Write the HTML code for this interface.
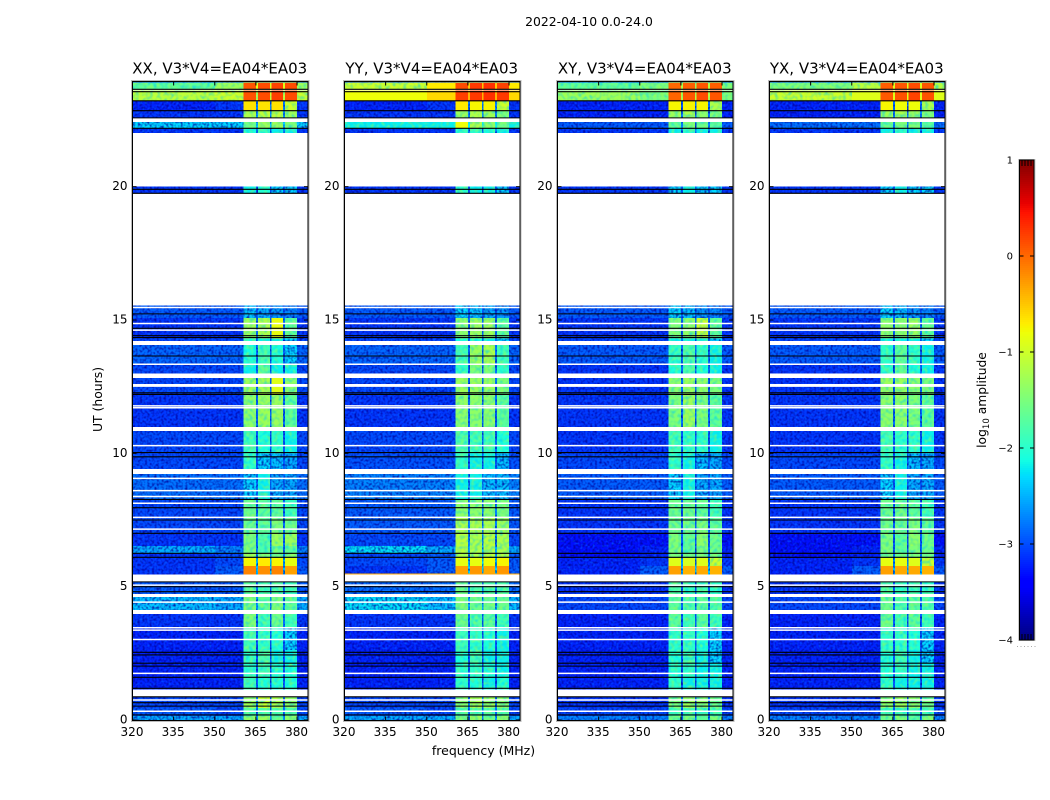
<!DOCTYPE html>
<html lang="en">
<head>
<meta charset="utf-8">
<title>2022-04-10 0.0-24.0</title>
<style>
html,body{margin:0;padding:0;background:#fff;}
body{width:1050px;height:800px;overflow:hidden;}
svg{display:block;}
text{font-family:"DejaVu Sans","Liberation Sans",sans-serif;fill:#000;}
</style>
</head>
<body>
<svg id="chart" xmlns="http://www.w3.org/2000/svg" width="1050" height="800" viewBox="0 0 1050 800">
  <defs>
    <filter id="grain" x="0" y="0" width="100%" height="100%" color-interpolation-filters="sRGB">
      <feTurbulence type="fractalNoise" baseFrequency="0.42" numOctaves="1" seed="4" result="n"/>
      <feColorMatrix in="n" type="matrix" values="0 0 0 0 0  0 0 0 0 0  0 0 0 0 0.6  2.2 0 0 0 -0.92" result="dark"/>
      <feColorMatrix in="n" type="matrix" values="0 0 0 0 0  0 0 0 0 0.42  0 0 0 0 1  0 2.2 0 0 -1.2" result="light"/>
      <feComposite in="dark" in2="SourceAlpha" operator="in" result="darkClip"/>
      <feComposite in="light" in2="SourceAlpha" operator="in" result="lightClip"/>
      <feMerge><feMergeNode in="SourceGraphic"/><feMergeNode in="darkClip"/><feMergeNode in="lightClip"/></feMerge>
    </filter>
    <filter id="grain-soft" x="0" y="0" width="100%" height="100%" color-interpolation-filters="sRGB">
      <feTurbulence type="fractalNoise" baseFrequency="0.28" numOctaves="1" seed="9" result="n"/>
      <feColorMatrix in="n" type="matrix" values="0 0 0 0 0  0 0 0 0 0.8  0 0 0 0 0.95  1.6 0 0 0 -0.7" result="cool"/>
      <feColorMatrix in="n" type="matrix" values="0 0 0 0 0.65  0 0 0 0 1  0 0 0 0 0.25  0 1.4 0 0 -0.62" result="warm"/>
      <feComposite in="cool" in2="SourceAlpha" operator="in" result="coolClip"/>
      <feComposite in="warm" in2="SourceAlpha" operator="in" result="warmClip"/>
      <feMerge><feMergeNode in="SourceGraphic"/><feMergeNode in="coolClip"/><feMergeNode in="warmClip"/></feMerge>
    </filter>
  </defs>
  <text x="589" y="26" font-size="12.4" text-anchor="middle">2022-04-10 0.0-24.0</text>
  <text transform="translate(102,399.5) rotate(-90)" font-size="12.4" text-anchor="middle">UT (hours)</text>
  <text x="483.5" y="755" font-size="12.5" text-anchor="middle">frequency (MHz)</text>
  <text transform="translate(986,400) rotate(-90)" font-size="12.3" text-anchor="middle">log<tspan font-size="8.6" dy="3">10</tspan><tspan dy="-3"> amplitude</tspan></text>
</svg>
<script>
// Data: UT extents (hours) of each recorded time block; gaps between blocks are flagged (white).
const utBlocks = [
[0,0.15],[0.15,0.45],[0.45,0.88],[1.14,1.61],[1.61,2.14],[2.14,2.62],[2.62,3.45],[3.45,3.97],
[4.12,4.61],[4.72,5.19],[5.45,5.5],[5.5,5.77],[5.77,6.07],[6.07,6.26],[6.26,6.52],[6.52,7.01],
[7.01,7.57],[7.57,8.25],[8.25,9.22],[9.41,10.0],[10.0,10.83],[10.98,12.22],[12.22,12.82],[12.99,13.34],
[13.34,14.06],[14.21,14.3],[14.3,15.07],[15.07,15.55],[19.75,20.0],[22.01,22.19],[22.19,22.43],
[22.6,22.86],[22.86,23.22],[23.22,23.6],[23.66,23.91],[23.91,24.0]
];
// Frequency bins (MHz) of the heatmap columns.
const freqEdges = [320,350,360.4,365.1,365.8,370.2,370.7,374.9,375.6,380,384];
// Which value of a block row each frequency bin reads.
const binToValue = [0,1,2,6,3,6,4,6,5,1];
// log10 amplitude per block: [low band, mid band, sub-band 1, 2, 3, 4, sub-band gap].
const xxValues = [
[-2.5,-2.5,-1.4,-1.3,-1.7,-1.4,-2.6],[-2.9,-3,-1.8,-1.8,-1.8,-1.8,-2.8],[-3,-3,-1.3,-1,-1.2,-1.4,-2.7],
[-3.2,-3.2,-1.9,-2.1,-2.1,-2.1,-2.9],[-3.2,-3.2,-2,-1.9,-2.1,-2.1,-2.9],[-3.2,-3.2,-2,-1.8,-2.2,-2.2,-2.9],
[-3.2,-3.2,-1.9,-2,-2.1,-2.3,-2.9],[-3.1,-3.1,-1.5,-1.9,-1.6,-1.9,-2.8],[-2.4,-2.5,-1.5,-1.7,-1.5,-1.7,-2.6],
[-2.9,-2.9,-1.7,-1.9,-1.8,-1.9,-2.8],[-3.1,-2.9,-0.15,-0.2,-0.15,-0.3,-2.4],[-3.1,-2.9,-0.15,-0.2,-0.15,-0.3,-2.4],
[-3.1,-3,-0.75,-0.7,-0.75,-0.85,-2.4],[-3.1,-3,-1.3,-1.5,-1.5,-1.4,-2.7],[-2.5,-2.7,-1.5,-1.8,-1.6,-1.7,-2.7],
[-3.1,-3.1,-1.5,-1.8,-1.3,-1.3,-2.8],[-3,-3,-1.6,-1.7,-1.5,-1.6,-2.8],[-3,-3,-1.6,-1.7,-1.7,-1.9,-2.8],
[-2.8,-2.8,-2.3,-2.2,-2.5,-2.5,-2.8],[-3,-3,-2,-2.3,-2.4,-2.5,-2.9],[-3,-3,-1.9,-2.1,-2,-2.2,-2.9],
[-3.1,-3.1,-1.4,-1.3,-1.3,-1.7,-2.8],[-3,-3,-1.3,-1.2,-0.9,-1.4,-2.8],[-3,-3,-2.2,-1.7,-2.2,-2.2,-2.8],
[-2.85,-2.85,-2.1,-1.9,-2.1,-2.3,-2.8],[-3,-3,-2.1,-2.2,-2.2,-2.3,-2.8],[-3.1,-3.1,-1.3,-1.2,-0.85,-1.7,-2.8],
[-2.9,-2.9,-2.4,-2.5,-2.6,-2.7,-2.9],[-3.1,-3.1,-2.2,-2.1,-2.3,-2.3,-2.9],[-3.1,-3.1,-2.1,-2,-2.2,-2.2,-2.7],
[-2.3,-2.3,-1.6,-1.3,-1.3,-1.5,-2.3],[-3.1,-3.1,-1.2,-1.1,-1.1,-1.3,-2.6],[-3.2,-3.1,-0.65,-0.65,-0.65,-1,-2.7],
[-1.1,-1,0.12,0.15,0.22,0.15,-1],[-1.7,-1.3,0.1,0.15,0.2,0.15,-0.9],[-3,-3,-2,-2,-2,-2,-2.7]
];
const yyValues = [
[-2.5,-2.5,-1.5,-1.3,-1.6,-1.4,-2.6],[-2.9,-3,-1.8,-1.8,-1.8,-1.8,-2.8],[-3,-3,-1.4,-1.2,-1.3,-1.4,-2.7],
[-3.2,-3.2,-2,-2.1,-2.2,-2.1,-2.9],[-3.2,-3.2,-2,-2,-2.1,-2.2,-2.9],[-3.2,-3.2,-2.1,-1.9,-2.2,-2.2,-2.9],
[-3.2,-3.2,-1.9,-2,-2.1,-2.2,-2.9],[-3.1,-3.1,-1.6,-1.8,-1.7,-1.9,-2.8],[-2.25,-2.4,-1.5,-1.6,-1.6,-1.6,-2.5],
[-2.8,-2.8,-1.6,-1.8,-1.8,-1.8,-2.7],[-0.35,-0.35,-0.3,-0.3,-0.3,-0.3,-0.35],[-3.1,-2.9,-0.3,-0.25,-0.35,-0.25,-2.3],
[-3,-2.9,-0.85,-0.85,-0.8,-0.75,-2.3],[-3,-2.9,-1.2,-1.2,-1.1,-1.1,-2.6],[-2.25,-2.5,-1.1,-1.2,-1.2,-1.2,-2.5],
[-3,-3,-1.1,-1.2,-1.1,-1.2,-2.6],[-2.9,-2.9,-1.2,-1.2,-1.2,-1.3,-2.7],[-2.9,-2.9,-1.4,-1.4,-1.4,-1.5,-2.7],
[-2.7,-2.7,-2.2,-2.2,-2.4,-2.4,-2.7],[-2.95,-2.95,-2,-2.2,-2.2,-2.4,-2.9],[-3,-3,-1.8,-1.9,-1.9,-2.1,-2.8],
[-3.1,-3.1,-1.4,-1.4,-1.4,-1.7,-2.8],[-3,-3,-1.3,-1.3,-1.3,-1.5,-2.8],[-3,-3,-2,-1.5,-1.5,-2,-2.8],
[-2.85,-2.85,-1.9,-1.3,-1.2,-1.9,-2.8],[-3,-3,-2.1,-2.1,-2.2,-2.3,-2.8],[-3.1,-3.1,-1.4,-1.3,-1.3,-1.7,-2.8],
[-2.9,-2.9,-2.3,-2.4,-2.5,-2.6,-2.9],[-3.1,-3.1,-2,-2.2,-2.2,-2.3,-2.9],[-3.1,-3.1,-2,-2,-2.1,-2.2,-2.7],
[-2.2,-2.2,-0.8,-1.2,-1.4,-1.6,-2.2],[-3.1,-3.1,-1.3,-1.2,-1.3,-1.5,-2.6],[-3.2,-3.1,-0.7,-0.75,-0.75,-1,-2.7],
[-0.8,-0.6,0.22,0.25,0.3,0.25,-0.4],[-1,-0.7,0.15,0.25,0.3,0.2,-0.5],[-3,-3,-2,-2,-2,-2,-2.7]
];
const xyValues = [
[-2.7,-2.7,-1.6,-1.5,-1.7,-1.5,-2.7],[-3,-3,-1.9,-1.9,-1.9,-1.9,-2.9],[-3.1,-3.1,-1.5,-1.3,-1.4,-1.6,-2.8],
[-3.2,-3.2,-2,-2.2,-2.2,-2.2,-2.9],[-3.2,-3.2,-2.1,-2,-2.2,-2.2,-2.9],[-3.2,-3.2,-2.1,-1.9,-2.2,-2.3,-2.9],
[-3.2,-3.2,-2,-2,-2.1,-2.3,-2.9],[-3.2,-3.2,-1.7,-1.9,-1.7,-1.9,-2.9],[-3,-3,-1.7,-1.8,-1.7,-1.8,-2.8],
[-3.1,-3.1,-1.8,-2,-1.9,-2,-2.9],[-3.2,-2.9,-0.3,-0.4,-0.35,-0.4,-2.4],[-3.2,-2.9,-0.3,-0.4,-0.35,-0.4,-2.4],
[-3.2,-3.1,-0.9,-0.95,-0.9,-1,-2.6],[-3.3,-3.2,-1.5,-1.6,-1.5,-1.6,-2.8],[-3.3,-3.2,-1.5,-1.7,-1.5,-1.6,-2.8],
[-3.3,-3.3,-1.5,-1.7,-1.4,-1.6,-2.9],[-3.1,-3.1,-1.6,-1.6,-1.5,-1.7,-2.9],[-3.1,-3.1,-1.6,-1.6,-1.7,-1.9,-2.9],
[-2.9,-2.9,-2.3,-2.2,-2.5,-2.5,-2.9],[-3,-3,-2,-2.2,-2.4,-2.5,-2.9],[-3.1,-3.1,-1.9,-2,-2,-2.2,-2.9],
[-3.1,-3.1,-1.5,-1.3,-1.5,-1.7,-2.8],[-3.1,-3.1,-1.4,-1.3,-1.4,-1.5,-2.8],[-3.1,-3.1,-2.1,-1.8,-2.1,-2.2,-2.8],
[-2.9,-2.9,-2,-1.8,-2,-2.2,-2.8],[-3,-3,-2.2,-2.2,-2.2,-2.3,-2.8],[-3.1,-3.1,-1.5,-1.4,-1,-1.7,-2.8],
[-2.9,-2.9,-2.3,-2.4,-2.6,-2.7,-2.9],[-3.1,-3.1,-2.3,-2.2,-2.3,-2.3,-2.9],[-3.1,-3.1,-2.2,-2,-2.2,-2.2,-2.7],
[-2.9,-2.9,-1.7,-1.5,-1.6,-1.7,-2.7],[-3.2,-3.2,-1.3,-1.2,-1.4,-1.5,-2.7],[-3.2,-3.2,-0.75,-0.75,-0.75,-1.2,-2.8],
[-1.3,-1.5,0.02,0.1,0.15,0.1,-1.1],[-1.7,-1.5,0,0.05,0.1,0.05,-1.1],[-3,-3,-2,-2,-2,-2,-2.7]
];
const yxValues = [
[-2.7,-2.7,-1.6,-1.5,-1.7,-1.5,-2.7],[-3,-3,-1.9,-1.9,-1.9,-1.9,-2.9],[-3.1,-3.1,-1.4,-1.3,-1.4,-1.6,-2.8],
[-3.2,-3.2,-2,-2.2,-2.2,-2.2,-2.9],[-3.2,-3.2,-2.1,-2,-2.2,-2.2,-2.9],[-3.2,-3.2,-2.1,-1.9,-2.2,-2.3,-2.9],
[-3.2,-3.2,-2,-2,-2.1,-2.3,-2.9],[-3.2,-3.2,-1.6,-1.9,-1.7,-1.9,-2.9],[-3,-3,-1.6,-1.8,-1.7,-1.8,-2.8],
[-3.1,-3.1,-1.8,-2,-1.9,-2,-2.9],[-3.2,-2.9,-0.3,-0.35,-0.35,-0.4,-2.4],[-3.2,-2.9,-0.3,-0.35,-0.35,-0.4,-2.4],
[-3.2,-3.1,-0.85,-0.85,-0.9,-1,-2.6],[-3.3,-3.2,-1.5,-1.6,-1.5,-1.6,-2.8],[-3.3,-3.2,-1.5,-1.7,-1.5,-1.6,-2.8],
[-3.3,-3.3,-1.5,-1.7,-1.4,-1.6,-2.9],[-3.1,-3.1,-1.6,-1.6,-1.5,-1.7,-2.9],[-3.1,-3.1,-1.6,-1.6,-1.7,-1.9,-2.9],
[-2.9,-2.9,-2.3,-2.2,-2.5,-2.5,-2.9],[-3,-3,-2,-2.2,-2.4,-2.5,-2.9],[-3.1,-3.1,-1.9,-2,-2,-2.2,-2.9],
[-3.1,-3.1,-1.4,-1.4,-1.5,-1.7,-2.8],[-3.1,-3.1,-1.3,-1.3,-1.4,-1.5,-2.8],[-3.1,-3.1,-2,-1.7,-2.1,-2.2,-2.8],
[-2.9,-2.9,-2,-1.7,-2,-2.2,-2.8],[-3,-3,-2.2,-2.2,-2.2,-2.3,-2.8],[-3.1,-3.1,-1.4,-1.4,-1.3,-1.7,-2.8],
[-2.9,-2.9,-2.3,-2.4,-2.6,-2.7,-2.9],[-3.1,-3.1,-2.3,-2.2,-2.3,-2.3,-2.9],[-3.1,-3.1,-2.2,-2,-2.2,-2.2,-2.7],
[-2.8,-2.8,-1.7,-1.5,-1.5,-1.7,-2.7],[-3.2,-3.2,-1.3,-1.2,-1.3,-1.5,-2.7],[-3.2,-3.2,-0.75,-0.8,-0.8,-1.2,-2.8],
[-1,-0.9,0.08,0.12,0.2,0.12,-0.9],[-1.5,-1.1,0.05,0.1,0.15,0.1,-0.9],[-3,-3,-2,-2,-2,-2,-2.7]
];
// Integrations flagged in all polarisations (UT hours).
const flaggedWhiteHours = [0.33,0.75,1.75,3.02,3.37,3.46,4.42,5.06,7.16,7.6,8.13,8.38,8.6,9.06,10.29,11.71,11.78,12.52,12.57,13.34,14.62,14.87,15.47];
const zeroBlackHours = [0.19,0.52,0.65,0.87,1.19,1.6,2.02,2.13,2.44,2.54,4.81,5.0,5.18,6.1,6.25,7.0,7.5,7.96,8.27,9.87,10.03,12.21,12.27,13.65,14.34,14.41,14.69,15.23,19.75,19.9,22.19,22.58,22.85,23.22,23.56,23.65,23.95];
// Labels and ticks.
const panelTitles = ['XX, V3*V4=EA04*EA03','YY, V3*V4=EA04*EA03','XY, V3*V4=EA04*EA03','YX, V3*V4=EA04*EA03'];
const xTicks = [320,335,350,365,380];
const yTicks = [0,5,10,15,20];
const colorbarTicks = [-4,-3,-2,-1,0,1];
// Jet colormap segments: [position, channel level].
const jetRed = [[0,0],[0.35,0],[0.66,1],[0.89,1],[1,0.5]];
const jetGreen = [[0,0],[0.125,0],[0.375,1],[0.64,1],[0.91,0],[1,0]];
const jetBlue = [[0,0.5],[0.11,1],[0.34,1],[0.65,0],[1,0]];
const panelValues = [xxValues,yyValues,xyValues,yxValues];

const SVG_NS = 'http://www.w3.org/2000/svg';
const chart = document.getElementById('chart');
const PANEL_LEFT = 132, PANEL_STEP = 212.4, PANEL_WIDTH = 175.5;
const PANEL_TOP = 80, PANEL_BOTTOM = 720, FRAME_TOP = 81.5, FRAME_BOTTOM = 720.5;
const FREQ_MIN = 320, FREQ_MAX = 384, UT_MAX = 24;
const CB_LEFT = 1019.5, CB_WIDTH = 14.5, CB_TOP = 160, CB_BOTTOM = 640, AMP_MIN = -4, AMP_MAX = 1;
const NOISY_BELOW = -2.2, SMOOTH_ABOVE = -1, MINOR_COUNT = 4, MINOR_STEP = 3, DOT_COUNT = 6, DOT_STEP = 3.5;

function panelX(i){ return Math.round(PANEL_LEFT + i * PANEL_STEP) + 0.5; }
function xScale(freq, i){ return panelX(i) + (freq - FREQ_MIN) / (FREQ_MAX - FREQ_MIN) * PANEL_WIDTH; }
function yScale(h){ return PANEL_BOTTOM - h / UT_MAX * (PANEL_BOTTOM - PANEL_TOP); }
function cbScale(v){ return CB_BOTTOM - (v - AMP_MIN) / (AMP_MAX - AMP_MIN) * (CB_BOTTOM - CB_TOP); }
function channel(stops, t){
  for (let k = 1; k < stops.length; k++) {
    if (t <= stops[k][0]) {
      const a = stops[k - 1], b = stops[k];
      return a[1] + (b[1] - a[1]) * (t - a[0]) / (b[0] - a[0]);
    }
  }
  return stops[stops.length - 1][1];
}
function jet(v){
  const t = Math.max(0, Math.min(1, (v - AMP_MIN) / (AMP_MAX - AMP_MIN)));
  return 'rgb(' + [jetRed, jetGreen, jetBlue].map(function (s) { return Math.round(255 * channel(s, t)); }).join(',') + ')';
}
function make(tag, attrs, parent){
  const el = document.createElementNS(SVG_NS, tag);
  Object.keys(attrs).forEach(function (k) { el.setAttribute(k, attrs[k]); });
  (parent || chart).appendChild(el);
  return el;
}

panelValues.forEach(function (rows, p) {
  const panel = make('g', {});
  
  

  const heat = make('g', {filter: 'url(#grain)', 'shape-rendering': 'crispEdges'}, panel);
  
  
  const heatBright = make('g', {filter: 'url(#grain-soft)', 'shape-rendering': 'crispEdges'}, panel);
  
  
  const heatHot = make('g', {'shape-rendering': 'crispEdges'}, panel);
  
  
  rows.forEach(function (vals, r) {
    const y0 = yScale(utBlocks[r][1]), y1 = yScale(utBlocks[r][0]);
    binToValue.forEach(function (vi, c) {
      const x0 = xScale(freqEdges[c], p), x1 = xScale(freqEdges[c + 1], p);
      const v = vals[vi];
      const host = v < NOISY_BELOW ? heat : (v > SMOOTH_ABOVE ? heatHot : heatBright);
      const cell = make('rect', {x: x0, y: y0, width: x1 - x0, height: y1 - y0, fill: jet(v)}, host);
      
      
    });
  });

  flaggedWhiteHours.forEach(function (h) {
    const l = make('line', {x1: xScale(FREQ_MIN, p), x2: xScale(FREQ_MAX, p), y1: yScale(h), y2: yScale(h), stroke: '#fff', 'stroke-width': 1.5}, panel);
    
    
  });
  zeroBlackHours.forEach(function (h) {
    const l = make('line', {x1: xScale(FREQ_MIN, p), x2: xScale(FREQ_MAX, p), y1: yScale(h), y2: yScale(h), stroke: '#000', 'stroke-width': 1.1}, panel);
    
    
  });

  const halo = make('rect', {x: panelX(p) - 1, y: FRAME_TOP - 1, width: PANEL_WIDTH + 2, height: FRAME_BOTTOM - FRAME_TOP + 2, fill: 'none', stroke: '#bbb', 'stroke-width': 1}, panel);
  
  
  const frame = make('rect', {x: panelX(p), y: FRAME_TOP, width: PANEL_WIDTH, height: FRAME_BOTTOM - FRAME_TOP, fill: 'none', stroke: '#000', 'stroke-width': 1}, panel);
  
  

  xTicks.forEach(function (f) {
    const x = xScale(f, p);
    const t1 = make('line', {x1: x, x2: x, y1: FRAME_BOTTOM, y2: FRAME_BOTTOM - 4, stroke: '#000'}, panel);
    
    
    const t2 = make('line', {x1: x, x2: x, y1: FRAME_TOP, y2: FRAME_TOP + 4, stroke: '#000'}, panel);
    
    
    const lab = make('text', {x: x - 0.5, y: 736, 'font-size': 12, 'text-anchor': 'middle'}, panel);
    
    
    lab.textContent = f;
  });
  yTicks.forEach(function (h) {
    const y = yScale(h);
    const t1 = make('line', {x1: panelX(p), x2: panelX(p) + 4, y1: y, y2: y, stroke: '#000'}, panel);
    
    
    const t2 = make('line', {x1: panelX(p) + PANEL_WIDTH, x2: panelX(p) + PANEL_WIDTH - 4, y1: y, y2: y, stroke: '#000'}, panel);
    
    
    const lab = make('text', {x: panelX(p) - 5, y: y + 3.5, 'font-size': 12, 'text-anchor': 'end'}, panel);
    
    
    lab.textContent = h;
  });

  const title = make('text', {x: panelX(p) + PANEL_WIDTH / 2 - 0.5, y: 73.5, 'font-size': 15, 'text-anchor': 'middle'}, panel);
  
  
  title.textContent = panelTitles[p];
});

// Colorbar
const cb = make('g', {});


for (let y = CB_TOP; y < CB_BOTTOM; y += 2) {
  const v = AMP_MAX - (y + 1 - CB_TOP) / (CB_BOTTOM - CB_TOP) * (AMP_MAX - AMP_MIN);
  const seg = make('rect', {x: CB_LEFT, y: y, width: CB_WIDTH, height: 2.2, fill: jet(v), 'shape-rendering': 'crispEdges'}, cb);
  
  
}
const cbHalo = make('rect', {x: CB_LEFT - 1, y: CB_TOP - 0.5, width: CB_WIDTH + 2, height: CB_BOTTOM - CB_TOP + 1, fill: 'none', stroke: '#ccc'}, cb);


const cbFrame = make('rect', {x: CB_LEFT, y: CB_TOP, width: CB_WIDTH, height: CB_BOTTOM - CB_TOP, fill: 'none', stroke: '#000'}, cb);


colorbarTicks.forEach(function (v) {
  const y = cbScale(v);
  const t1 = make('line', {x1: CB_LEFT, x2: CB_LEFT + 4, y1: y, y2: y, stroke: '#000'}, cb);
  
  
  const t2 = make('line', {x1: CB_LEFT + CB_WIDTH, x2: CB_LEFT + CB_WIDTH - 4, y1: y, y2: y, stroke: '#000'}, cb);
  
  
  const lab = make('text', {x: 1013, y: y + 3.5, 'font-size': 10, 'text-anchor': 'end'}, cb);
  
  
  lab.textContent = v < 0 ? '\u2212' + Math.abs(v) : String(v);
});
for (let m = 0; m < MINOR_COUNT; m++) {
  const x = CB_LEFT + 2.5 + m * MINOR_STEP;
  const a = make('line', {x1: x, x2: x, y1: CB_TOP, y2: CB_TOP + 6, stroke: '#000'}, cb);
  
  
  const b = make('line', {x1: x, x2: x, y1: CB_BOTTOM, y2: CB_BOTTOM - 6, stroke: '#000'}, cb);
  
  
}
for (let d = 0; d < DOT_COUNT; d++) {
  const dot = make('rect', {x: 1017 + d * DOT_STEP, y: 646, width: 1, height: 1, fill: '#aaa'}, cb);
  
  
}
</script>
</body>
</html>
